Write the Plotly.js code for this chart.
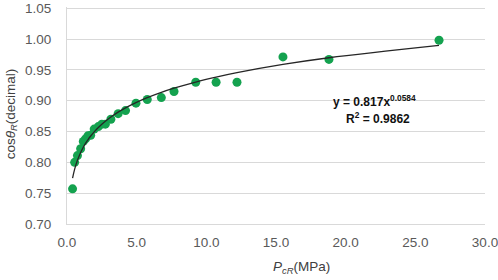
<!DOCTYPE html>
<html>
<head>
<meta charset="utf-8">
<script src="https://cdn.plot.ly/plotly-3.0.1.min.js"></script>
<style>html,body{margin:0;padding:0;background:#fff;}#chart{width:498px;height:280px;}</style>
</head>
<body>
<div id="chart"></div>
<script>
// Data
var pressure = [0.4, 0.55, 0.75, 0.98, 1.17, 1.33, 1.5, 1.7, 1.95, 2.25, 2.5, 2.75, 3.15, 3.67, 4.2, 4.95, 5.76, 6.77, 7.68, 9.24, 10.7, 12.2, 15.5, 18.8, 26.7];
var cosTheta = [0.757, 0.800, 0.811, 0.822, 0.834, 0.838, 0.843, 0.844, 0.854, 0.858, 0.862, 0.862, 0.870, 0.879, 0.884, 0.896, 0.902, 0.905, 0.915, 0.930, 0.930, 0.930, 0.971, 0.967, 0.998];
// Power-law trendline coefficients, as printed on the chart
var fitA = 0.817;
var fitB = 0.0584;
var fitR2 = 0.9862;
var xTicks = [0, 5, 10, 15, 20, 25, 30];
var yTicks = [0.70, 0.75, 0.80, 0.85, 0.90, 0.95, 1.00, 1.05];

var trendY = pressure.map(function (p) { return fitA * Math.pow(p, fitB); });

var labelFont = {family: 'Liberation Sans, Arial, sans-serif', size: 13.5, color: '#595959'};

var traces = [
  {
    x: pressure, y: cosTheta, type: 'scatter', mode: 'markers',
    marker: {color: '#14a24f', size: 9},
    hoverinfo: 'none', showlegend: false
  },
  {
    x: pressure, y: trendY, type: 'scatter', mode: 'lines',
    line: {color: '#262626', width: 1.3, shape: 'spline'},
    hoverinfo: 'none', showlegend: false
  }
];

var layout = {
  width: 498, height: 280,
  margin: {l: 67, r: 13, t: 7, b: 56},
  paper_bgcolor: '#ffffff', plot_bgcolor: '#ffffff',
  showlegend: false,
  xaxis: {
    range: [0, 30], tickvals: xTicks, ticktext: xTicks.map(function (v) { return v.toFixed(1); }),
    showgrid: false, zeroline: false, showline: true, linecolor: '#d9d9d9', linewidth: 1,
    ticks: '', tickfont: labelFont, ticklabelstandoff: 6, ticklabeloverflow: 'allow'
  },
  yaxis: {
    range: [0.70, 1.052], tickvals: yTicks, ticktext: yTicks.map(function (v) { return v.toFixed(2); }),
    showgrid: true, gridcolor: '#d9d9d9', gridwidth: 1, zeroline: false,
    showline: true, linecolor: '#d9d9d9', linewidth: 1,
    ticks: '', tickfont: labelFont, ticklabelstandoff: 12, ticklabeloverflow: 'allow'
  },
  annotations: [
    {
      xref: 'paper', yref: 'paper', x: -0.134, y: 0.51, xanchor: 'center', yanchor: 'middle',
      textangle: -90, showarrow: false,
      text: 'cos<i>θ</i><sub><i>R</i></sub>(decimal)',
      font: {family: 'Liberation Sans, Arial, sans-serif', size: 13.5, color: '#404040'}
    },
    {
      xref: 'paper', yref: 'paper', x: 0.561, y: -0.199, xanchor: 'center', yanchor: 'middle',
      showarrow: false,
      text: '<i>P</i><sub><i>cR</i></sub>(MPa)',
      font: {family: 'Liberation Sans, Arial, sans-serif', size: 13.5, color: '#404040'}
    },
    {
      xref: 'x', yref: 'y', x: 22.1, y: 0.900, xanchor: 'center', yanchor: 'middle',
      showarrow: false,
      text: '<b>y = ' + fitA + 'x<sup>' + fitB + '</sup></b>',
      font: {family: 'Liberation Sans Narrow, Arial Narrow, Liberation Sans, sans-serif', size: 12, color: '#111111'}
    },
    {
      xref: 'x', yref: 'y', x: 22.35, y: 0.872, xanchor: 'center', yanchor: 'middle',
      showarrow: false,
      text: '<b>R<sup>2</sup> = ' + fitR2 + '</b>',
      font: {family: 'Liberation Sans Narrow, Arial Narrow, Liberation Sans, sans-serif', size: 12, color: '#111111'}
    }
  ]
};

Plotly.newPlot('chart', traces, layout, {displayModeBar: false, staticPlot: true});
</script>
</body>
</html>
